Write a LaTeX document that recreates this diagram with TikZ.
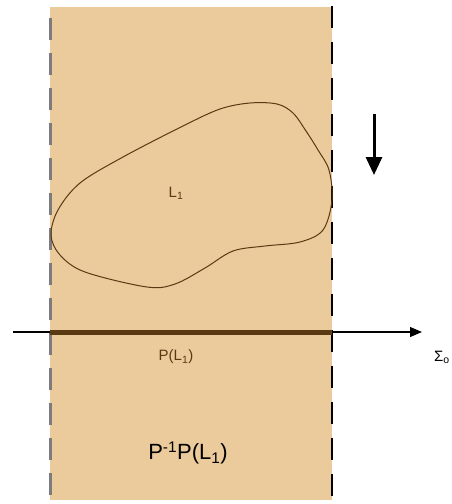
\documentclass[tikz,border=0pt]{standalone}
\usepackage{fontspec}
\setmainfont{Liberation Sans}
\definecolor{stripfill}{HTML}{EBCA9B}
\definecolor{setbrown}{HTML}{5A3A12}
\definecolor{edgegray}{HTML}{7C7C7C}
\usetikzlibrary{arrows.meta,positioning}

\begin{document}
\begin{tikzpicture}[x=1pt,y=-1pt,
    lbl/.style={inner sep=0pt,font=\fontsize{15}{18}\selectfont},
    bigl/.style={inner sep=0pt,font=\fontsize{22}{26}\selectfont},
    bound/.style={line width=3pt,edgegray,dash pattern=on 22pt off 13pt},
    boundr/.style={line width=1.8pt,black,dash pattern=on 22pt off 14pt},
    axis/.style={line width=1.1pt,-{Triangle[length=12pt,width=10pt]}},
    proj/.style={line width=5pt,setbrown},
    dirarr/.style={line width=3pt,-{Triangle[length=18pt,width=16pt]}}]
  \useasboundingbox (0,0) rectangle (452,504);
  \fill[stripfill] (50,7) rectangle (332,500);
  \draw[bound] (50,18) -- (50,500);
  \draw[boundr] (332,6) -- (332,500);
  \draw[setbrown,line width=1pt] plot[smooth cycle,tension=0.55] coordinates {
    (293,113) (277,104) (250,103) (220,109) (183,126) (123,157) (80,183)
    (58,210) (51,235) (60,255) (85,272) (147,287) (175,284) (205,268)
    (233,251) (265,246) (300,242) (323,230) (332,200) (329,170) (318,150)
    (306,131)};
  \node[lbl,setbrown] (l1) at (176,193) {L\textsubscript{1}};
  \coordinate (axl) at (13,332);
  \coordinate (axr) at (422,332);
  \coordinate (pl) at (50,332);
  \coordinate (pr) at (332,332);
  \draw[axis] (axl) -- (axr);
  \draw[proj] (pl) -- (pr);
  \node[lbl,setbrown] (pl1) at (176,357) {P(L\textsubscript{1})};
  \node[lbl,anchor=west] (sigma) at (434,357) {Σ\textsubscript{o}};
  \node[bigl] (pinv) at (188,453) {P\textsuperscript{-1}P(L\textsubscript{1})};
  \coordinate (dtop) at (374,114);
  \coordinate (dbot) at (374,175);
  \draw[dirarr] (dtop) -- (dbot);
\end{tikzpicture}
\end{document}
